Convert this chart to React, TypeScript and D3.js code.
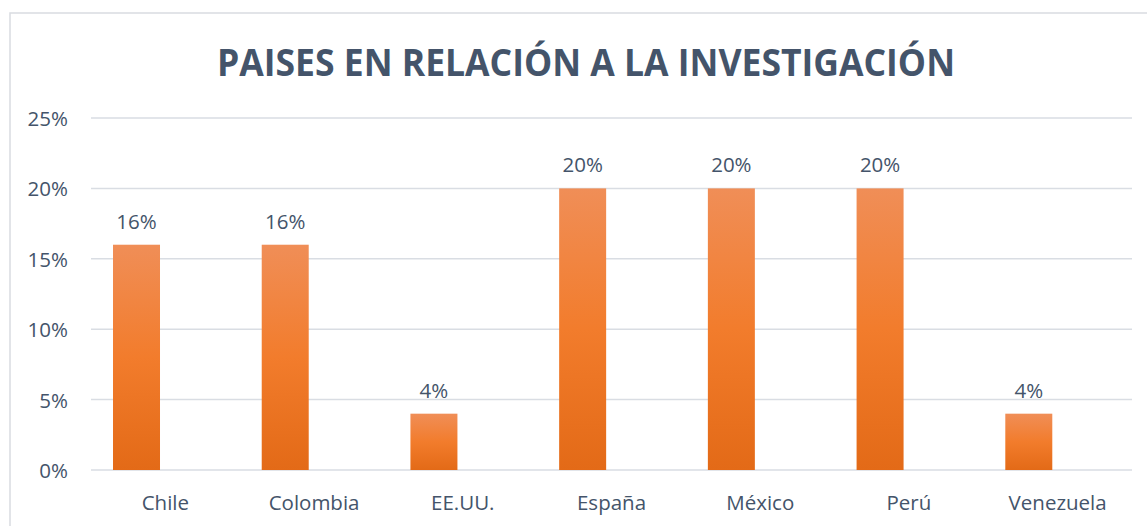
import React, { useEffect, useRef } from 'react';
import * as d3 from 'd3';

const categories = ['Chile', 'Colombia', 'EE.UU.', 'España', 'México', 'Perú', 'Venezuela'];
const values = [0.16, 0.16, 0.04, 0.2, 0.2, 0.2, 0.04];
const yTicks = [0, 0.05, 0.1, 0.15, 0.2, 0.25];
const title = 'PAISES EN RELACIÓN A LA INVESTIGACIÓN';

export default function App() {
  const ref = useRef<SVGSVGElement | null>(null);

  useEffect(() => {
    const width = 1147;
    const height = 526;
    const margin = { top: 118, right: 15, bottom: 56, left: 91 };
    const innerW = width - margin.left - margin.right;
    const innerH = height - margin.top - margin.bottom;
    const textColor = '#44546A';
    const font = "'Open Sans', sans-serif";
    const fs = 20.5;

    const svg = d3.select(ref.current);
    svg.selectAll('*').remove();

    const defs = svg.append('defs');
    const grad = defs.append('linearGradient')
      .attr('id', 'barGrad')
      .attr('x1', 0).attr('y1', 0).attr('x2', 0).attr('y2', 1);
    grad.append('stop').attr('offset', '0%').attr('stop-color', '#F08E57');
    grad.append('stop').attr('offset', '50%').attr('stop-color', '#F27C2C');
    grad.append('stop').attr('offset', '100%').attr('stop-color', '#E36A17');

    svg.append('rect').attr('width', width).attr('height', height).attr('fill', '#fff');
    // chart frame
    svg.append('rect')
      .attr('x', 10).attr('y', 13)
      .attr('width', width + 20).attr('height', height + 20)
      .attr('fill', 'none')
      .attr('stroke', '#D9DCE1')
      .attr('stroke-width', 1.5);

    svg.append('text')
      .attr('x', 586).attr('y', 76)
      .attr('text-anchor', 'middle')
      .attr('font-family', font)
      .attr('font-weight', 700)
      .attr('font-size', 38)
      .attr('fill', textColor)
      .attr('textLength', 738)
      .attr('lengthAdjust', 'spacingAndGlyphs')
      .text(title);

    const x = d3.scaleBand().domain(categories).range([0, innerW]).padding(0);
    const y = d3.scaleLinear().domain([0, 0.25]).range([innerH, 0]);

    const plot = svg.append('g').attr('transform', `translate(${margin.left},${margin.top})`);

    plot.selectAll('.grid').data(yTicks).enter().append('line')
      .attr('class', 'grid')
      .attr('x1', 0).attr('x2', innerW)
      .attr('y1', d => y(d)).attr('y2', d => y(d))
      .attr('stroke', '#D9DDE3').attr('stroke-width', 1.5);

    plot.selectAll('.ylab').data(yTicks).enter().append('text')
      .attr('class', 'ylab')
      .attr('x', -23).attr('y', d => y(d) + 8)
      .attr('text-anchor', 'end')
      .attr('font-family', font).attr('font-size', fs)
      .attr('fill', textColor)
      .text(d => d3.format('.0%')(d));

    const bw = x.bandwidth();
    const barOffset = bw * 0.148;
    const barW = bw * 0.316;

    plot.selectAll('.bar').data(values).enter().append('rect')
      .attr('class', 'bar')
      .attr('x', (d, i) => (x(categories[i]) as number) + barOffset)
      .attr('y', d => y(d))
      .attr('width', barW)
      .attr('height', d => innerH - y(d))
      .attr('fill', 'url(#barGrad)');

    plot.selectAll('.vlab').data(values).enter().append('text')
      .attr('class', 'vlab')
      .attr('x', (d, i) => (x(categories[i]) as number) + barOffset + barW / 2)
      .attr('y', d => y(d) - 16)
      .attr('text-anchor', 'middle')
      .attr('font-family', font).attr('font-size', fs)
      .attr('fill', textColor)
      .text(d => d3.format('.0%')(d));

    plot.selectAll('.xlab').data(categories).enter().append('text')
      .attr('class', 'xlab')
      .attr('x', d => (x(d) as number) + bw / 2)
      .attr('y', innerH + 40)
      .attr('text-anchor', 'middle')
      .attr('font-family', font).attr('font-size', fs)
      .attr('fill', textColor)
      .text(d => d);
  }, []);

  return (
    <svg ref={ref} width={1147} height={526} style={{ position: 'absolute', left: 0, top: 0, display: 'block' }} />
  );
}
